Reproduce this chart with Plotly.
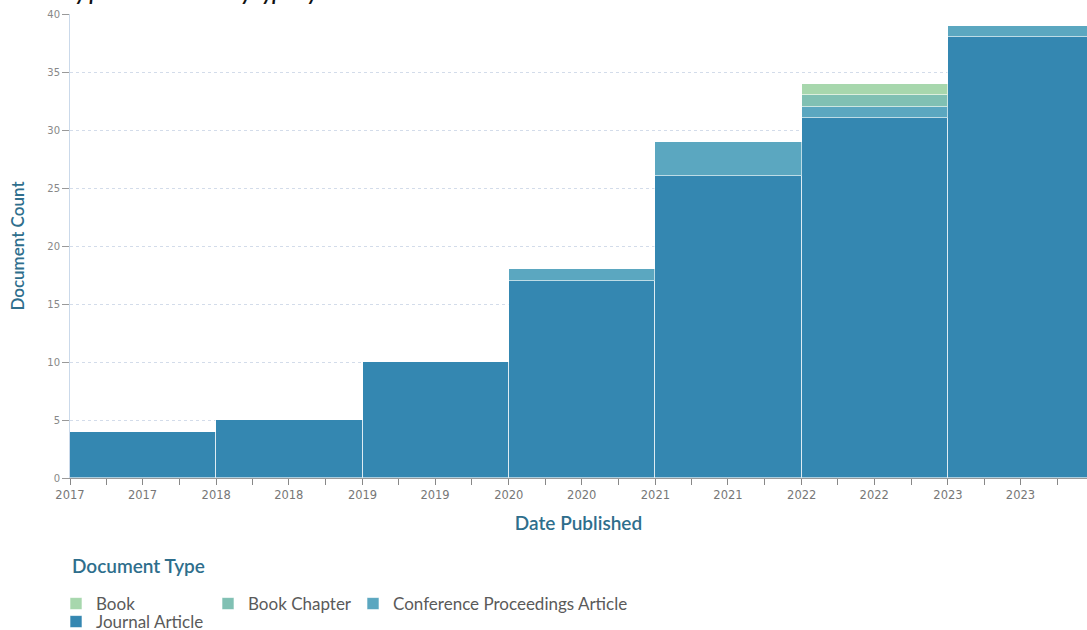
import plotly.graph_objects as go

# data
years = [2017, 2018, 2019, 2020, 2021, 2022, 2023]
journal_article = [4, 5, 10, 17, 26, 31, 38]
conference_article = [0, 0, 0, 1, 3, 1, 1]
book_chapter = [0, 0, 0, 0, 0, 1, 0]
book = [0, 0, 0, 0, 0, 1, 0]

series = [
    ("Journal Article", journal_article, "#3487b1", "legend4"),
    ("Conference Proceedings Article", conference_article, "#5ba7c0", "legend3"),
    ("Book Chapter", book_chapter, "#80c0b3", "legend2"),
    ("Book", book, "#a7d7ad", "legend"),
]

x_dates = [f"{y}-01-01" for y in years]
year_ms = 365 * 24 * 3600 * 1000

TEAL = "#2e6e8c"
GREY = "#5a5a5a"

fig = go.Figure()
for name, vals, color, leg in series:
    fig.add_trace(go.Bar(
        x=x_dates, y=vals, name=name,
        width=year_ms, offset=0,
        marker=dict(color=color, line=dict(color="rgba(255,255,255,0.6)", width=1)),
        legend=leg,
    ))

W, H = 1087, 630
L, T, B = 70, 14, 152
pw, ph = W - L, H - T - B


def px(x):
    return (x - L) / pw


def py(y):
    return (H - B - y) / ph


leg_common = dict(orientation="h", xanchor="left", yanchor="middle",
                  bgcolor="rgba(0,0,0,0)",
                  font=dict(family="Lato", size=17, color=GREY))

fig.update_layout(
    width=W, height=H,
    margin=dict(l=L, r=0, t=T, b=B, autoexpand=False),
    plot_bgcolor="white", paper_bgcolor="white",
    barmode="stack", bargap=0,
    showlegend=True,
    legend=dict(x=px(56), y=py(604), **leg_common),
    legend2=dict(x=px(208), y=py(604), **leg_common),
    legend3=dict(x=px(353), y=py(604), **leg_common),
    legend4=dict(x=px(56), y=py(622), **leg_common),
    xaxis=dict(
        type="date", range=["2017-01-01", "2023-12-14"],
        dtick="M6", tick0="2017-01-01", tickformat="%Y",
        ticks="outside", ticklen=6, tickcolor="#888",
        tickfont=dict(family="DejaVu Sans", size=11.5, color="#777"),
        minor=dict(dtick="M3", ticks="outside", ticklen=6, tickcolor="#888"),
        showgrid=False, showline=True, linecolor="#999", automargin=False,
        title=dict(text="Date Published", standoff=15,
                   font=dict(family="Lato", size=19, color=TEAL, weight=600)),
    ),
    yaxis=dict(
        range=[0, 40], dtick=5,
        ticks="outside", ticklen=7, tickcolor="#999",
        tickfont=dict(family="DejaVu Sans", size=10, color="#888"),
        showgrid=True, gridcolor="#d3dcea", griddash="3px,3px",
        zeroline=False, showline=True, linecolor="#cad9ea", automargin=False,
        title=dict(text="Document Count", standoff=18,
                   font=dict(family="Lato", size=17, color=TEAL, weight=600)),
    ),
    annotations=[
        dict(text="Document Type", xref="paper", yref="paper",
             x=0, y=py(565), xanchor="left", yanchor="middle", showarrow=False,
             font=dict(family="Lato", size=19, color=TEAL, weight=600)),
        dict(text="<b><i>Document Count by publication date by type by Date Published</i></b>",
             xref="paper", yref="paper", x=px(-85), y=py(6),
             xanchor="left", yanchor="bottom", showarrow=False,
             font=dict(family="Lato", size=20, color="#111")),
    ],
)

# drop the default body margin so the figure sits at the page corner
fig.write_html("out.html", config={"displayModeBar": False},
               post_script="document.body.style.margin='0';")
